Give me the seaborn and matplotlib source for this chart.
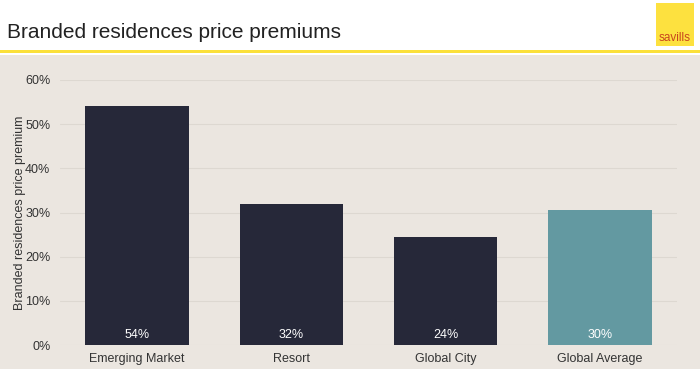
import matplotlib
matplotlib.use("Agg")
import matplotlib.pyplot as plt
import seaborn as sns
import pandas as pd
from matplotlib.patches import Rectangle
from matplotlib.ticker import PercentFormatter

categories = ["Emerging Market", "Resort", "Global City", "Global Average"]
values = [0.54, 0.32, 0.245, 0.305]
labels = ["54%", "32%", "24%", "30%"]
colors = ["#262839", "#262839", "#262839", "#6399a1"]

sns.set_theme(style="white")
plt.rcParams['font.family'] = ['Liberation Sans', 'DejaVu Sans']

BG = "#ebe6e0"
W, H = 700, 369
fig = plt.figure(figsize=(7, 3.69), dpi=100)
fig.patch.set_facecolor("white")

# beige panel
fig.add_artist(Rectangle((0, 0), 1, (H - 55) / H, transform=fig.transFigure,
                         facecolor=BG, edgecolor="none", zorder=0))
# yellow rule
fig.add_artist(Rectangle((0, (H - 53) / H), 1, 3 / H, transform=fig.transFigure,
                         facecolor="#fbe03a", edgecolor="none", zorder=1))
# logo
fig.add_artist(Rectangle((656 / W, (H - 46) / H), 38 / W, 43 / H, transform=fig.transFigure,
                         facecolor="#fde13f", edgecolor="none", zorder=1))
fig.text(675 / W, (H - 38) / H, "savills", ha="center", va="center",
         fontsize=8.5, color="#c8461e", zorder=2)

fig.text(7 / W, (H - 32) / H, "Branded residences price premiums", ha="left", va="center",
         fontsize=15, color="#222222")

ax = fig.add_axes([60 / W, (H - 345) / H, (677 - 60) / W, (345 - 80) / H])
ax.set_facecolor("none")
df = pd.DataFrame({"cat": categories, "val": values})
sns.barplot(data=df, x="cat", y="val", hue="cat", palette=colors, legend=False,
            width=0.67, saturation=1, linewidth=0, edgecolor="none", ax=ax)
ax.set_ylim(0, 0.6)
ax.set_xlim(-0.5, 3.5)
ax.yaxis.set_major_formatter(PercentFormatter(1.0, decimals=0))
ax.set_yticks([0, 0.1, 0.2, 0.3, 0.4, 0.5, 0.6])
ax.grid(axis="y", color="#ddd8d1", linewidth=0.8)
ax.set_axisbelow(True)
for s in ax.spines.values():
    s.set_visible(False)
ax.tick_params(axis="both", length=0, labelsize=9, colors="#333333")
ax.tick_params(axis="y", pad=7)
ax.tick_params(axis="x", pad=6)
ax.set_xlabel("")
ax.set_ylabel("Branded residences price premium", fontsize=9, color="#333333")
ax.yaxis.set_label_coords(-0.055, 0.5)

for i, (c, lab) in enumerate(zip(ax.patches, labels)):
    ax.text(c.get_x() + c.get_width() / 2, 0.022, lab, ha="center", va="center",
            color="white", fontsize=9)

fig.savefig("out.png", dpi=100, facecolor=fig.get_facecolor())
